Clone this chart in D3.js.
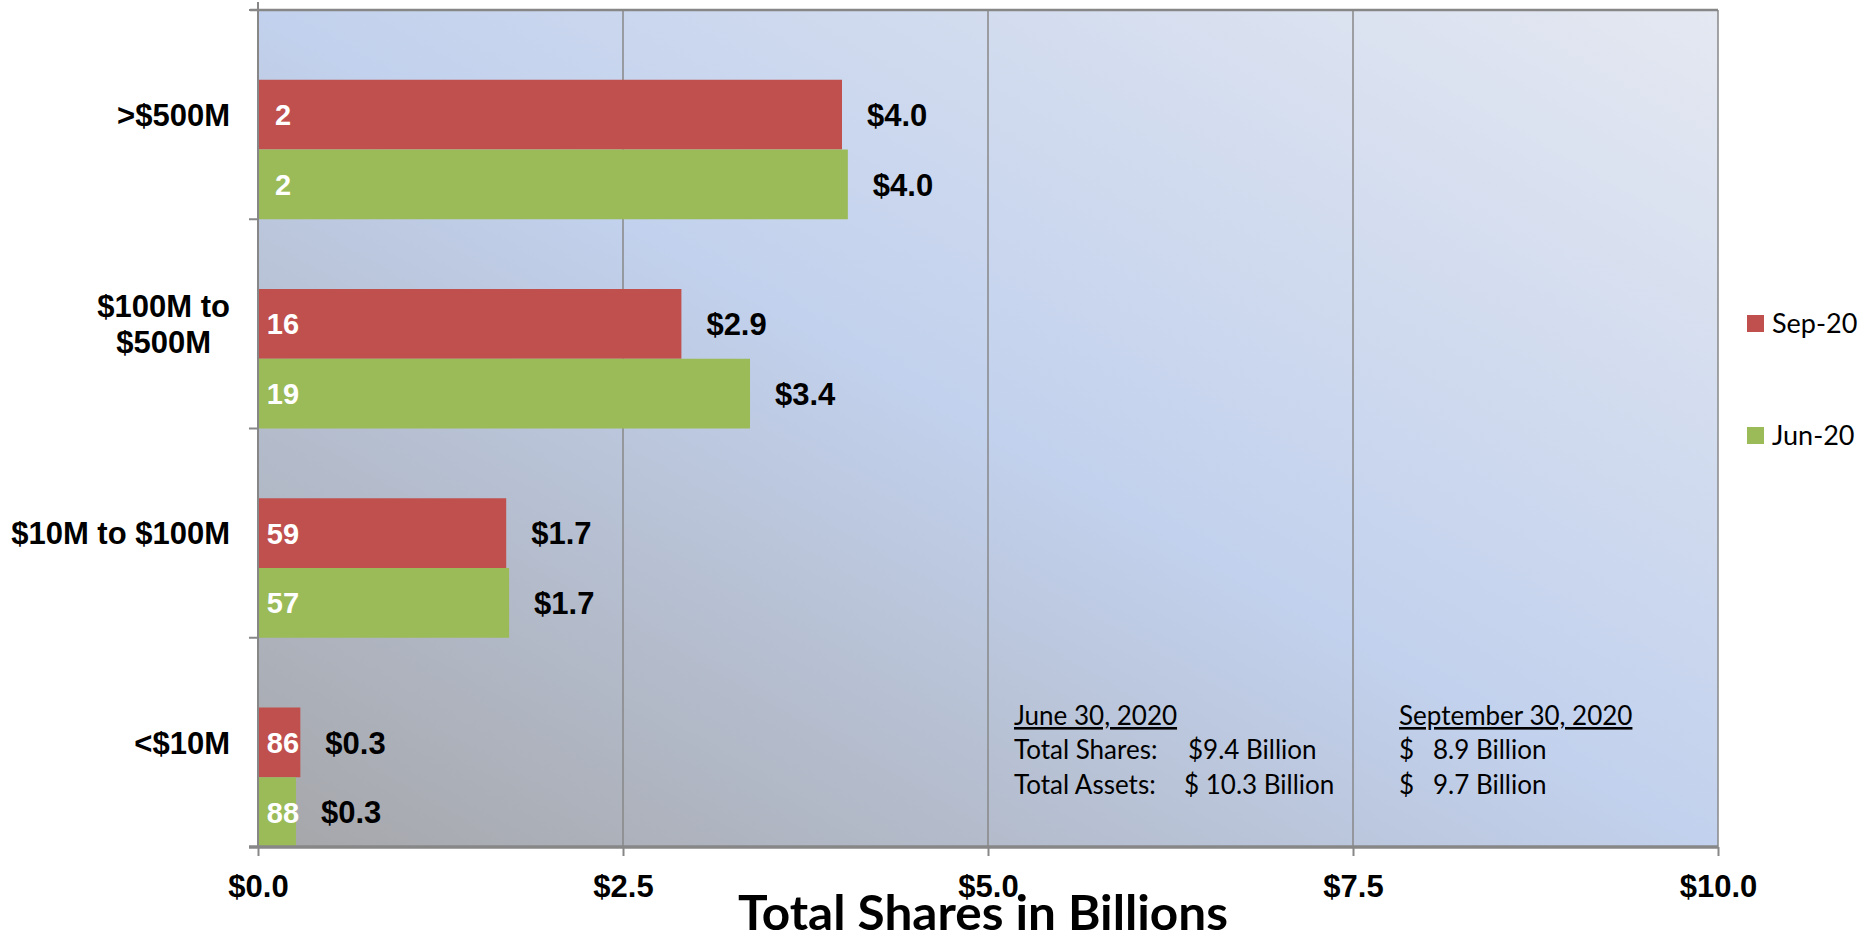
<!DOCTYPE html>
<html>
<head>
<meta charset="utf-8">
<script src="https://cdn.jsdelivr.net/npm/d3@7"></script>
<style>
  body { margin: 0; background: #fff; }
  svg { display: block; }
</style>
</head>
<body>
<div id="chart"></div>
<script>
// data
const categories = [">$500M", "$100M to $500M", "$10M to $100M", "<$10M"];
const categoryLines = [[">$500M"], ["$100M to", "$500M"], ["$10M to $100M"], ["<$10M"]];
const seriesNames = ["Sep-20", "Jun-20"];
const sepShares = [4.0, 2.9, 1.70, 0.29];   // $ billions
const junShares = [4.04, 3.37, 1.72, 0.26];
const sepCounts = [2, 16, 59, 86];
const junCounts = [2, 19, 57, 88];
const sepLabels = ["$4.0", "$2.9", "$1.7", "$0.3"];
const junLabels = ["$4.0", "$3.4", "$1.7", "$0.3"];
const xTicks = [0, 2.5, 5, 7.5, 10];
const xTitle = "Total Shares in Billions";

// summary box text
const juneHead = "June 30, 2020";
const juneRows = [["Total Shares:", "$9.4 Billion"], ["Total Assets:", "$ 10.3 Billion"]];
const septHead = "September 30, 2020";
const septRows = [["$", "8.9 Billion"], ["$", "9.7 Billion"]];

const W = 1876, H = 942;
const plot = { left: 258, right: 1718, top: 10, bottom: 847 };
const colors = { "Sep-20": "#c0504d", "Jun-20": "#9bbb59" };
const gridColor = "#878787";

const rows = categories.map((c, i) => ({
  cat: c,
  lines: categoryLines[i],
  bars: [
    { series: "Sep-20", value: sepShares[i], count: sepCounts[i], label: sepLabels[i] },
    { series: "Jun-20", value: junShares[i], count: junCounts[i], label: junLabels[i] }
  ]
}));

const x = d3.scaleLinear().domain([0, 10]).range([plot.left, plot.right]);
const y = d3.scaleBand().domain(categories).range([plot.top, plot.bottom]);
// each band: empty slot on top, then Sep, then Jun
const ySub = d3.scaleBand().domain(["gap"].concat(seriesNames)).range([0, y.bandwidth()]);

const svg = d3.select("#chart").append("svg")
  .attr("width", W).attr("height", H);

// plot background gradient: grey bottom-left -> blue -> pale top-right
const defs = svg.append("defs");
const grad = defs.append("linearGradient")
  .attr("id", "bg").attr("x1", 0).attr("y1", 1).attr("x2", 1).attr("y2", 0);
grad.append("stop").attr("offset", 0).attr("stop-color", "#a5a6a9");
grad.append("stop").attr("offset", 0.5).attr("stop-color", "#c2d1ed");
grad.append("stop").attr("offset", 1).attr("stop-color", "#e4e8f1");

svg.append("rect")
  .attr("x", plot.left).attr("y", plot.top)
  .attr("width", plot.right - plot.left).attr("height", plot.bottom - plot.top)
  .attr("fill", "url(#bg)");

// vertical gridlines
svg.append("g").selectAll("line")
  .data(xTicks.slice(1))
  .join("line")
  .attr("x1", d => x(d)).attr("x2", d => x(d))
  .attr("y1", plot.top).attr("y2", plot.bottom)
  .attr("stroke", gridColor).attr("stroke-width", 1.5);

// top border
svg.append("line")
  .attr("x1", plot.left - 8).attr("x2", plot.right)
  .attr("y1", plot.top).attr("y2", plot.top)
  .attr("stroke", gridColor).attr("stroke-width", 2.5);

// bars
const groups = svg.append("g").selectAll("g")
  .data(rows)
  .join("g")
  .attr("transform", d => `translate(0,${y(d.cat)})`);

groups.selectAll("rect")
  .data(d => d.bars)
  .join("rect")
  .attr("x", x(0))
  .attr("y", d => ySub(d.series))
  .attr("width", d => x(d.value) - x(0))
  .attr("height", ySub.bandwidth())
  .attr("fill", d => colors[d.series]);

// counts inside bars
groups.selectAll("text.count")
  .data(d => d.bars)
  .join("text")
  .attr("class", "count")
  .attr("x", x(0) + 25)
  .attr("y", d => ySub(d.series) + ySub.bandwidth() / 2)
  .attr("dy", "0.36em")
  .attr("text-anchor", "middle")
  .style("font-family", "Liberation Sans, Arial, sans-serif")
  .style("font-weight", "bold")
  .style("font-size", "29px")
  .attr("fill", "#fff")
  .text(d => d.count);

// value labels past the bar ends
groups.selectAll("text.val")
  .data(d => d.bars)
  .join("text")
  .attr("class", "val")
  .attr("x", d => x(d.value) + 25)
  .attr("y", d => ySub(d.series) + ySub.bandwidth() / 2)
  .attr("dy", "0.36em")
  .style("font-family", "Liberation Sans, Arial, sans-serif")
  .style("font-weight", "bold")
  .style("font-size", "31px")
  .attr("fill", "#000")
  .text(d => d.label);

// left axis line + ticks at band edges
svg.append("line")
  .attr("x1", plot.left).attr("x2", plot.left)
  .attr("y1", plot.top - 8).attr("y2", plot.bottom)
  .attr("stroke", gridColor).attr("stroke-width", 2);
const edges = categories.map(c => y(c)).concat([plot.bottom]);
svg.append("g").selectAll("line")
  .data(edges)
  .join("line")
  .attr("x1", plot.left - 9).attr("x2", plot.left)
  .attr("y1", d => d).attr("y2", d => d)
  .attr("stroke", gridColor).attr("stroke-width", 2);

// category labels, centred on the Sep bar
const catLabels = svg.append("g").selectAll("text")
  .data(rows)
  .join("text")
  .style("font-family", "Liberation Sans, Arial, sans-serif")
  .style("font-weight", "bold")
  .style("font-size", "31px")
  .attr("fill", "#000")
  .attr("text-anchor", "middle");

catLabels.each(function(d) {
  const t = d3.select(this);
  const cy = y(d.cat) + ySub("Sep-20") + ySub.bandwidth() / 2;
  const lh = 36;
  d.lines.forEach((ln, k) => {
    t.append("tspan")
      .attr("y", cy + (k - (d.lines.length - 1) / 2) * lh)
      .attr("dy", "0.36em")
      .text(ln);
  });
  // right-align the whole block at 230px
  let maxW = 0;
  t.selectAll("tspan").each(function() { maxW = Math.max(maxW, this.getComputedTextLength()); });
  t.selectAll("tspan").attr("x", 230 - maxW / 2);
});

// bottom axis
const xAxis = svg.append("g")
  .attr("transform", `translate(0,${plot.bottom})`)
  .call(d3.axisBottom(x).tickValues(xTicks).tickFormat(d3.format("$.1f")).tickSize(9).tickPadding(19));
xAxis.select(".domain").attr("stroke", gridColor).attr("stroke-width", 3.5)
  .attr("d", `M${plot.left - 9},0H${plot.right}`);
xAxis.selectAll(".tick line").attr("stroke", gridColor).attr("stroke-width", 2);
xAxis.selectAll(".tick text")
  .style("font-family", "Liberation Sans, Arial, sans-serif")
  .style("font-weight", "bold")
  .style("font-size", "31px")
  .attr("fill", "#000");

// axis title
svg.append("text")
  .attr("x", (plot.left + plot.right) / 2 - 5)
  .attr("y", 930)
  .attr("text-anchor", "middle")
  .attr("textLength", 490)
  .attr("lengthAdjust", "spacingAndGlyphs")
  .style("font-family", "Lato, sans-serif")
  .style("font-weight", "bold")
  .style("font-size", "48px")
  .attr("fill", "#000")
  .text(xTitle);

// legend
const legend = svg.append("g").selectAll("g")
  .data(seriesNames)
  .join("g")
  .attr("transform", (d, i) => `translate(1747,${323 + i * 112})`);
legend.append("rect")
  .attr("x", 0).attr("y", -8).attr("width", 17).attr("height", 17)
  .attr("fill", d => colors[d]);
legend.append("text")
  .attr("x", 25).attr("dy", "0.36em")
  .style("font-family", "Lato, sans-serif")
  .style("font-size", "27px")
  .attr("fill", "#000")
  .text(d => d);

// summary notes
const note = svg.append("g")
  .style("font-family", "Lato, sans-serif")
  .style("font-size", "26px")
  .attr("fill", "#000");
note.append("text").attr("x", 1014).attr("y", 725)
  .style("text-decoration", "underline").text(juneHead);
juneRows.forEach((r, i) => {
  note.append("text").attr("x", 1014).attr("y", 759 + i * 35).text(r[0]);
  note.append("text").attr("x", i === 0 ? 1188 : 1184).attr("y", 759 + i * 35).text(r[1]);
});
note.append("text").attr("x", 1399).attr("y", 725)
  .style("text-decoration", "underline").text(septHead);
septRows.forEach((r, i) => {
  note.append("text").attr("x", 1399).attr("y", 759 + i * 35).text(r[0]);
  note.append("text").attr("x", 1433).attr("y", 759 + i * 35).text(r[1]);
});
</script>
</body>
</html>
